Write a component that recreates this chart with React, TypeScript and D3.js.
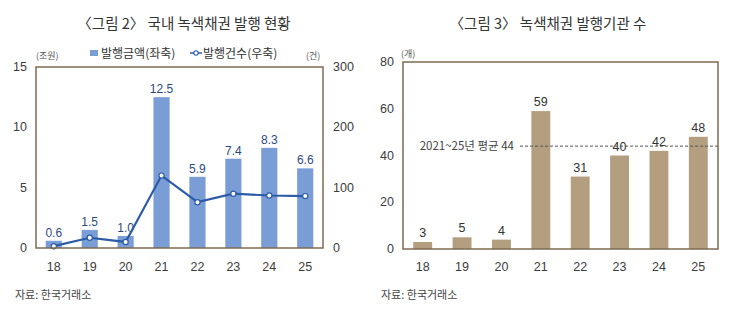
import React, { useEffect, useRef } from 'react';
import * as d3 from 'd3';

// 공통 카테고리 (연도)
const years = ['18', '19', '20', '21', '22', '23', '24', '25'];

// 그림 2: 발행금액(조원, 좌축), 발행건수(건, 우축)
const amounts = [0.6, 1.5, 1.0, 12.5, 5.9, 7.4, 8.3, 6.6];
const amountLabels = ['0.6', '1.5', '1.0', '12.5', '5.9', '7.4', '8.3', '6.6'];
const counts = [3, 17, 10, 120, 76, 90, 87, 86];
const leftTicks = [0, 5, 10, 15];
const rightTicks = [0, 100, 200, 300];

// 그림 3: 발행기관 수
const issuers = [3, 5, 4, 59, 31, 40, 42, 48];
const issuerTicks = [0, 20, 40, 60, 80];
const issuerAvg = 44;

const KR = "'Noto Sans CJK KR', 'Liberation Sans', sans-serif";
const NUM = "'Liberation Sans', Arial, sans-serif";
const FRAME = '#7d6b50';
const TEXT = '#3c3c3c';

const App = () => {
  const ref = useRef<SVGSVGElement>(null);

  useEffect(() => {
    const svg = d3.select(ref.current);
    svg.selectAll('*').remove();

    // ---------- 왼쪽 차트 ----------
    const L = { left: 36, right: 323, top: 67, bottom: 248 };
    const x1 = d3.scaleBand().domain(years).range([L.left, L.right]).paddingInner(0.55).paddingOuter(0.27);
    const y1 = d3.scaleLinear().domain([0, 15]).range([L.bottom, L.top]);
    const y1r = d3.scaleLinear().domain([0, 300]).range([L.bottom, L.top]);

    const g1 = svg.append('g');
    g1.append('text').attr('x', 184).attr('y', 29).attr('text-anchor', 'middle')
      .attr('font-family', KR).attr('font-size', 14.5).attr('fill', '#333')
      .text('〈그림 2〉 국내 녹색채권 발행 현황');

    g1.selectAll('.bar').data(amounts).enter().append('rect')
      .attr('x', (d, i) => x1(years[i])!)
      .attr('y', d => y1(d))
      .attr('width', x1.bandwidth())
      .attr('height', d => L.bottom - y1(d))
      .attr('fill', '#7b9dd6');

    g1.selectAll('.blab').data(amounts).enter().append('text')
      .attr('x', (d, i) => x1(years[i])! + x1.bandwidth() / 2)
      .attr('y', d => y1(d) - 4)
      .attr('text-anchor', 'middle').attr('font-family', NUM).attr('font-size', 12)
      .attr('fill', '#2d4a80')
      .text((d, i) => amountLabels[i]);

    const line = d3.line<number>()
      .x((d, i) => x1(years[i])! + x1.bandwidth() / 2)
      .y(d => y1r(d));
    g1.append('path').datum(counts).attr('d', line).attr('fill', 'none')
      .attr('stroke', '#2c5ba8').attr('stroke-width', 2.2);
    g1.selectAll('.pt').data(counts).enter().append('circle')
      .attr('cx', (d, i) => x1(years[i])! + x1.bandwidth() / 2)
      .attr('cy', d => y1r(d)).attr('r', 2.6)
      .attr('fill', '#fff').attr('stroke', '#2c5ba8').attr('stroke-width', 1.2);

    g1.append('rect').attr('x', L.left).attr('y', L.top)
      .attr('width', L.right - L.left).attr('height', L.bottom - L.top)
      .attr('fill', 'none').attr('stroke', FRAME).attr('stroke-width', 1.5);

    g1.selectAll('.lt').data(leftTicks).enter().append('text')
      .attr('x', 27).attr('y', d => y1(d) + 4).attr('text-anchor', 'end')
      .attr('font-family', NUM).attr('font-size', 12.5).attr('fill', TEXT).text(d => d);
    g1.selectAll('.rt').data(rightTicks).enter().append('text')
      .attr('x', 333).attr('y', d => y1r(d) + 4).attr('text-anchor', 'start')
      .attr('font-family', NUM).attr('font-size', 12.5).attr('fill', TEXT).text(d => d);
    g1.selectAll('.xt').data(years).enter().append('text')
      .attr('x', d => x1(d)! + x1.bandwidth() / 2).attr('y', 271).attr('text-anchor', 'middle')
      .attr('font-family', NUM).attr('font-size', 12.5).attr('fill', TEXT).text(d => d);

    g1.append('text').attr('x', 36).attr('y', 59).attr('font-family', KR).attr('font-size', 9)
      .attr('fill', '#555').text('(조원)');
    g1.append('text').attr('x', 306).attr('y', 59).attr('font-family', KR).attr('font-size', 9)
      .attr('fill', '#555').text('(건)');

    // 범례
    g1.append('rect').attr('x', 90).attr('y', 50).attr('width', 8).attr('height', 6).attr('fill', '#7b9dd6');
    g1.append('text').attr('x', 101).attr('y', 58).attr('font-family', KR).attr('font-size', 12)
      .attr('fill', '#333').text('발행금액(좌축)');
    g1.append('line').attr('x1', 190).attr('x2', 202).attr('y1', 53).attr('y2', 53)
      .attr('stroke', '#2c5ba8').attr('stroke-width', 1.5);
    g1.append('circle').attr('cx', 196).attr('cy', 53).attr('r', 2.2)
      .attr('fill', '#fff').attr('stroke', '#2c5ba8').attr('stroke-width', 1.1);
    g1.append('text').attr('x', 203).attr('y', 58).attr('font-family', KR).attr('font-size', 12)
      .attr('fill', '#333').text('발행건수(우축)');

    g1.append('text').attr('x', 15).attr('y', 299).attr('font-family', KR).attr('font-size', 11)
      .attr('fill', '#444').text('자료: 한국거래소');

    // ---------- 오른쪽 차트 ----------
    const R = { left: 403, right: 718, top: 62, bottom: 249 };
    const x2 = d3.scaleBand().domain(years).range([R.left, R.right]).paddingInner(0.52).paddingOuter(0.26);
    const y2 = d3.scaleLinear().domain([0, 80]).range([R.bottom, R.top]);

    const g2 = svg.append('g');
    g2.append('text').attr('x', 548).attr('y', 29).attr('text-anchor', 'middle')
      .attr('font-family', KR).attr('font-size', 14.5).attr('fill', '#333')
      .text('〈그림 3〉 녹색채권 발행기관 수');

    g2.selectAll('.bar').data(issuers).enter().append('rect')
      .attr('x', (d, i) => x2(years[i])!)
      .attr('y', d => y2(d))
      .attr('width', x2.bandwidth())
      .attr('height', d => R.bottom - y2(d))
      .attr('fill', '#b39e80');

    g2.selectAll('.blab').data(issuers).enter().append('text')
      .attr('x', (d, i) => x2(years[i])! + x2.bandwidth() / 2)
      .attr('y', d => y2(d) - 5)
      .attr('text-anchor', 'middle').attr('font-family', NUM).attr('font-size', 12.5)
      .attr('fill', '#333')
      .text(d => d);

    g2.append('line').attr('x1', 520).attr('x2', R.right).attr('y1', y2(issuerAvg)).attr('y2', y2(issuerAvg))
      .attr('stroke', '#555').attr('stroke-width', 1).attr('stroke-dasharray', '3,2');
    g2.append('text').attr('x', 514).attr('y', y2(issuerAvg) + 4).attr('text-anchor', 'end')
      .attr('font-family', KR).attr('font-size', 11.5).attr('fill', '#444')
      .text(`2021~25년 평균 ${issuerAvg}`);

    g2.append('rect').attr('x', R.left).attr('y', R.top)
      .attr('width', R.right - R.left).attr('height', R.bottom - R.top)
      .attr('fill', 'none').attr('stroke', FRAME).attr('stroke-width', 1.5);

    g2.selectAll('.lt').data(issuerTicks).enter().append('text')
      .attr('x', 394).attr('y', d => y2(d) + 4).attr('text-anchor', 'end')
      .attr('font-family', NUM).attr('font-size', 12.5).attr('fill', TEXT).text(d => d);
    g2.selectAll('.xt').data(years).enter().append('text')
      .attr('x', d => x2(d)! + x2.bandwidth() / 2).attr('y', 271).attr('text-anchor', 'middle')
      .attr('font-family', NUM).attr('font-size', 12.5).attr('fill', TEXT).text(d => d);

    g2.append('text').attr('x', 401).attr('y', 57).attr('font-family', KR).attr('font-size', 9)
      .attr('fill', '#555').text('(개)');
    g2.append('text').attr('x', 381).attr('y', 299).attr('font-family', KR).attr('font-size', 11)
      .attr('fill', '#444').text('자료: 한국거래소');
  }, []);

  return (
    <svg ref={ref} width={730} height={328}
      style={{ position: 'absolute', left: 0, top: 0, background: '#fff' }} />
  );
};

export default App;
